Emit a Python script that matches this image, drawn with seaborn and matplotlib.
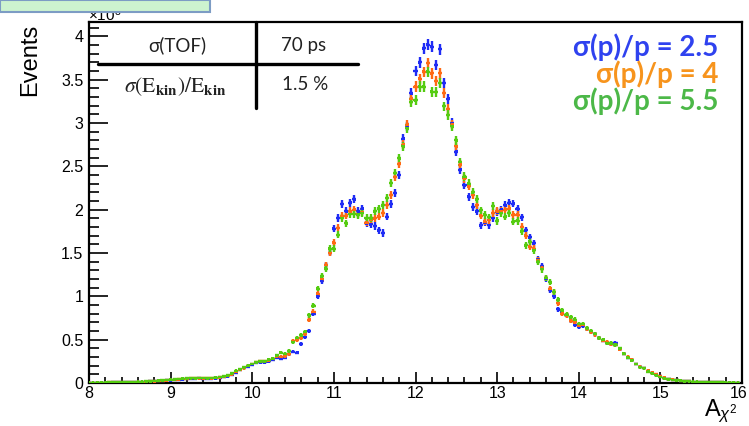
import numpy as np
import pandas as pd
import matplotlib
matplotlib.use("Agg")
import matplotlib.pyplot as plt
import matplotlib.transforms as mtransforms
import seaborn as sns
from matplotlib.lines import Line2D
from matplotlib.patches import Rectangle
from matplotlib.ticker import MultipleLocator, FuncFormatter

# ---------------- data (values in units of 10^3 events) ----------------
bin_lo = 8.0
bin_width = 0.05

blue_vals = [
    0.002, 0.003, 0.003, 0.004, 0.005, 0.005, 0.006, 0.007, 0.008, 0.009,
    0.010, 0.011, 0.012, 0.014, 0.016, 0.018, 0.020, 0.023, 0.026, 0.030,
    0.033, 0.037, 0.040, 0.043, 0.046, 0.048, 0.050, 0.052, 0.050, 0.048,
    0.050, 0.055, 0.060, 0.068, 0.078, 0.095, 0.12, 0.15, 0.17, 0.19,
    0.21, 0.23, 0.24, 0.24, 0.25, 0.27, 0.29, 0.28, 0.29, 0.33,
    0.36, 0.35, 0.45, 0.53, 0.60, 0.80, 1.00, 1.18, 1.36, 1.50,
    1.78, 1.90, 2.06, 1.98, 2.08, 2.12, 1.98, 2.01, 1.84, 1.83,
    1.81, 1.76, 1.73, 1.92, 2.06, 2.19, 2.40, 2.82, 2.96, 3.34,
    3.60, 3.70, 3.86, 3.90, 3.88, 3.67, 3.85, 3.46, 3.28, 3.00,
    2.67, 2.46, 2.28, 2.15, 2.03, 1.98, 1.82, 1.85, 1.82, 1.90,
    1.97, 2.00, 2.05, 2.08, 2.07, 2.01, 1.91, 1.76, 1.68, 1.61,
    1.43, 1.35, 1.20, 1.07, 1.00, 0.85, 0.82, 0.78, 0.72, 0.67,
    0.65, 0.66, 0.62, 0.59, 0.56, 0.52, 0.49, 0.46, 0.45, 0.46,
    0.39, 0.34, 0.29, 0.26, 0.22, 0.19, 0.17, 0.14, 0.11, 0.095,
    0.075, 0.058, 0.045, 0.036, 0.030, 0.026, 0.022, 0.019, 0.016, 0.014,
    0.012, 0.010, 0.009, 0.008, 0.007, 0.006, 0.005, 0.004, 0.004, 0.003,
]

orange_vals = [
    0.002, 0.003, 0.004, 0.004, 0.005, 0.006, 0.006, 0.007, 0.008, 0.009,
    0.010, 0.012, 0.013, 0.015, 0.017, 0.019, 0.021, 0.024, 0.028, 0.032,
    0.036, 0.040, 0.043, 0.046, 0.050, 0.052, 0.055, 0.056, 0.055, 0.054,
    0.056, 0.060, 0.066, 0.074, 0.085, 0.10, 0.13, 0.15, 0.17, 0.20,
    0.22, 0.24, 0.25, 0.25, 0.26, 0.28, 0.31, 0.30, 0.31, 0.33,
    0.48, 0.50, 0.52, 0.57, 0.73, 0.82, 1.03, 1.20, 1.36, 1.50,
    1.62, 1.79, 1.93, 1.93, 1.98, 2.00, 1.95, 1.97, 1.85, 1.88,
    1.90, 1.92, 1.96, 2.05, 2.17, 2.38, 2.53, 2.75, 2.98, 3.28,
    3.42, 3.51, 3.59, 3.69, 3.57, 3.48, 3.57, 3.34, 3.16, 2.98,
    2.73, 2.52, 2.36, 2.27, 2.17, 2.05, 1.93, 1.86, 1.88, 1.96,
    1.98, 1.98, 2.00, 2.01, 1.94, 1.94, 1.80, 1.70, 1.57, 1.55,
    1.42, 1.33, 1.21, 1.09, 1.05, 0.92, 0.80, 0.78, 0.72, 0.70,
    0.66, 0.67, 0.62, 0.59, 0.56, 0.52, 0.49, 0.47, 0.45, 0.44,
    0.39, 0.34, 0.30, 0.27, 0.22, 0.19, 0.17, 0.14, 0.12, 0.10,
    0.078, 0.060, 0.047, 0.037, 0.031, 0.026, 0.022, 0.019, 0.016, 0.014,
    0.012, 0.010, 0.009, 0.008, 0.007, 0.006, 0.005, 0.005, 0.004, 0.003,
]

green_vals = [
    0.003, 0.003, 0.004, 0.005, 0.005, 0.006, 0.007, 0.008, 0.009, 0.010,
    0.011, 0.012, 0.014, 0.016, 0.018, 0.020, 0.023, 0.026, 0.030, 0.034,
    0.038, 0.042, 0.045, 0.048, 0.052, 0.054, 0.056, 0.058, 0.057, 0.056,
    0.058, 0.062, 0.068, 0.076, 0.088, 0.11, 0.14, 0.16, 0.18, 0.20,
    0.22, 0.24, 0.25, 0.25, 0.27, 0.28, 0.32, 0.35, 0.34, 0.37,
    0.47, 0.52, 0.55, 0.59, 0.78, 0.89, 1.09, 1.23, 1.32, 1.55,
    1.55, 1.71, 1.90, 1.84, 1.95, 1.95, 1.94, 1.96, 1.90, 1.90,
    1.98, 2.01, 2.05, 2.13, 2.31, 2.42, 2.59, 2.73, 2.94, 3.24,
    3.26, 3.42, 3.42, 3.59, 3.36, 3.36, 3.46, 3.19, 3.09, 2.96,
    2.80, 2.55, 2.38, 2.30, 2.20, 2.12, 1.99, 1.94, 1.91, 2.04,
    1.87, 1.96, 1.92, 1.96, 1.86, 1.87, 1.75, 1.59, 1.63, 1.53,
    1.40, 1.31, 1.21, 1.16, 1.05, 0.96, 0.84, 0.79, 0.76, 0.73,
    0.68, 0.68, 0.63, 0.60, 0.57, 0.52, 0.50, 0.46, 0.46, 0.44,
    0.40, 0.34, 0.29, 0.26, 0.22, 0.18, 0.17, 0.13, 0.11, 0.09,
    0.070, 0.055, 0.043, 0.035, 0.029, 0.025, 0.021, 0.018, 0.016, 0.013,
    0.011, 0.010, 0.009, 0.008, 0.007, 0.006, 0.005, 0.004, 0.004, 0.003,
]

series_labels = ["σ(p)/p = 2.5", "σ(p)/p = 4", "σ(p)/p = 5.5"]
x_ticks = [8, 9, 10, 11, 12, 13, 14, 15, 16]
y_ticks = [0, 0.5, 1, 1.5, 2, 2.5, 3, 3.5, 4]
table_cells = [["σ(TOF)", "70 ps"],
               [r"$\sigma(\mathrm{E}_{\mathbf{kin}})/\mathrm{E}_{\mathbf{kin}}$", "1.5 %"]]

# ---------------- style ----------------
marker_colors = ["#1f2cf5", "#ff6a14", "#55cc11"]
text_colors = ["#2f42ef", "#f7941d", "#4cb848"]

sns.set_theme(style="ticks")
plt.rcParams['font.family'] = ['Liberation Sans', 'DejaVu Sans']
plt.rcParams['mathtext.fontset'] = 'custom'
plt.rcParams['mathtext.rm'] = 'Liberation Sans'
plt.rcParams['mathtext.it'] = 'Liberation Sans:italic'
plt.rcParams['mathtext.bf'] = 'Liberation Sans:bold'

W, H = 749, 426
def fx(x):
    return x / W
def fy(y):
    return 1 - y / H

fig = plt.figure(figsize=(W / 100, H / 100), dpi=100)
fig.patch.set_facecolor("white")
ax = fig.add_axes([fx(89), fy(383), (742 - 89) / W, (383 - 22) / H])
ax.set_facecolor("white")

n = len(blue_vals)
centers = bin_lo + bin_width * (np.arange(n))
frames = []
for lab, vals in zip(series_labels, [blue_vals, orange_vals, green_vals]):
    frames.append(pd.DataFrame({"x": centers, "events": vals, "series": lab}))
df = pd.concat(frames, ignore_index=True)
df["err"] = np.sqrt(df["events"] * 1000.0) / 1000.0

for lab, col in zip(series_labels, marker_colors):
    d = df[df["series"] == lab]
    ax.errorbar(d["x"], d["events"], xerr=bin_width / 2, yerr=d["err"],
                fmt="none", ecolor=col, elinewidth=1.7, capsize=0, zorder=3)

sns.scatterplot(data=df, x="x", y="events", hue="series",
                palette=dict(zip(series_labels, marker_colors)),
                marker="s", s=4, linewidth=0, legend=False, ax=ax, zorder=4)

ax.set_xlim(8, 16)
ax.set_ylim(0, 4.164)
ax.set_xlabel("")
ax.set_ylabel("")
ax.set_xticks(x_ticks)
ax.set_yticks(y_ticks)
ax.xaxis.set_minor_locator(MultipleLocator(0.2))
ax.yaxis.set_minor_locator(MultipleLocator(0.1))
ax.yaxis.set_major_formatter(FuncFormatter(lambda v, p: f"{v:g}"))
ax.xaxis.set_major_formatter(FuncFormatter(lambda v, p: f"{v:g}"))
ax.tick_params(axis='x', which='major', direction='in', length=8, width=1.2,
               top=False, labelsize=11.5, pad=2, color='black', labelcolor='black')
ax.tick_params(axis='x', which='minor', direction='in', length=4, width=1.2,
               top=False, color='black')
ax.tick_params(axis='y', which='major', direction='in', length=14, width=1.2,
               right=False, labelsize=11.5, pad=4, color='black', labelcolor='black')
ax.tick_params(axis='y', which='minor', direction='in', length=7, width=1.2,
               right=False, color='black')
for s in ax.spines.values():
    s.set_color("black")
    s.set_linewidth(1.6)
ax.grid(False)
# nudge the last x tick label so it stays inside the canvas
last_lab = ax.get_xticklabels()[-1]
last_lab.set_transform(last_lab.get_transform() +
                       mtransforms.ScaledTranslation(-3 / 100, 0, fig.dpi_scale_trans))

# axis titles
fig.text(fx(30), fy(60), "Events", rotation=90, fontsize=17,
         ha='center', va='center', color='black')
fig.text(fx(738), fy(416), r"$\mathrm{A}_{\chi^{2}}$", fontsize=17,
         ha='right', va='baseline', color='black')
fig.text(fx(88), fy(21), r"$\times10^{3}$", fontsize=11, ha='left',
         va='baseline', color='black')

# top-left slide box
fig.add_artist(Rectangle((0, fy(12)), fx(210), 12 / H, transform=fig.transFigure,
                         facecolor="#cdf3cf", edgecolor="#7d9cc4", linewidth=1.5,
                         zorder=10))

# table
fig.add_artist(Line2D([fx(98), fx(358)], [fy(64), fy(64)], color='black',
                      linewidth=2.4, transform=fig.transFigure, zorder=6))
fig.add_artist(Line2D([fx(256), fx(256)], [fy(22), fy(108)], color='black',
                      linewidth=2.4, transform=fig.transFigure, zorder=6))
tfam = ['Lato', 'Open Sans', 'DejaVu Sans']
fig.text(fx(177), fy(45), table_cells[0][0], fontsize=13.5, family=tfam,
         ha='center', va='center', color='#222222')
fig.text(fx(304), fy(45), table_cells[0][1], fontsize=13.5, family=tfam,
         ha='center', va='center', color='#222222')
fig.text(fx(175), fy(87), table_cells[1][0], fontsize=15.5, math_fontfamily='stix',
         ha='center', va='center', color='#222222')
fig.text(fx(305), fy(85), table_cells[1][1], fontsize=13.5, family=tfam,
         ha='center', va='center', color='#222222')

# legend texts
for i, (lab, col) in enumerate(zip(series_labels, text_colors)):
    fig.text(fx(718), fy(47 + 27 * i), lab, fontsize=20, fontweight='bold',
             family=tfam, ha='right', va='center', color=col)

fig.savefig("out.png", dpi=100)
